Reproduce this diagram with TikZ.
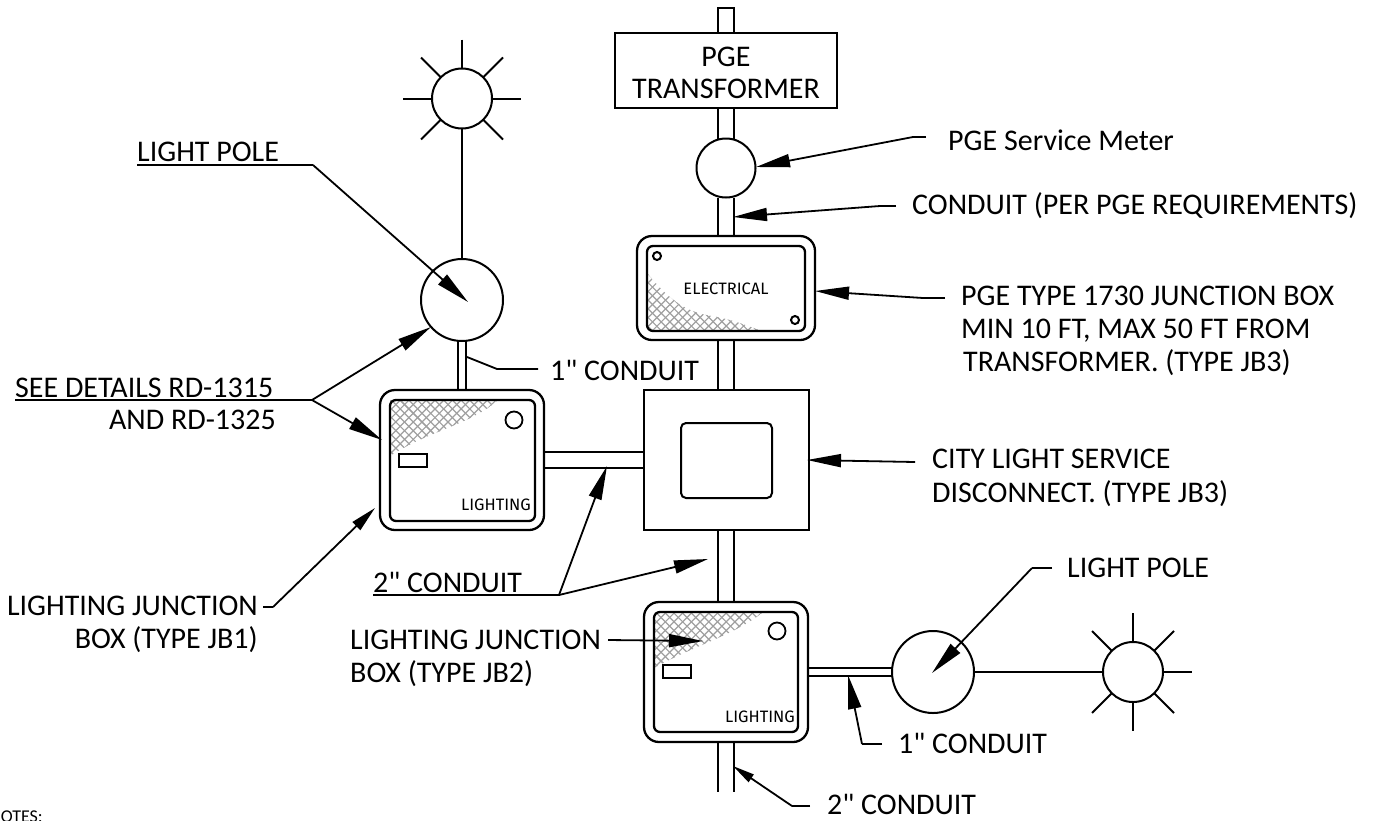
\documentclass[tikz,border=0pt]{standalone}
\usepackage{fontspec}
\setmainfont{Carlito}
\newfontfamily\comicf{Fira Sans}
\newfontfamily\plainq{Carlito}
\usetikzlibrary{arrows.meta,calc}
\newcommand{\qq}{{\plainq\symbol{34}}}
\tikzset{
 lbl/.style={inner sep=0pt,font=\fontsize{30}{33}\selectfont,align=left,text=black},
 lblr/.style={inner sep=0pt,font=\fontsize{30}{33}\selectfont,align=right,text=black},
 tiny/.style={inner sep=0pt,font=\comicf\fontsize{16.5}{18}\selectfont},
 main/.style={line width=2pt,black},
 thick2/.style={line width=2.3pt,black},
 leader/.style={line width=1.8pt,black},
 arr/.style={leader,-{Triangle[length=34pt,width=13pt]}},
 ring/.style={circle,draw,line width=2pt,inner sep=0pt},
 hatchline/.style={line width=1.2pt,gray!75},
}
\newcommand{\hatchfill}[1]{%
 \begin{scope}
 \clip #1;
 \foreach \k in {0,8.7,...,1000}{
   \draw[hatchline] (\k,0) -- ++(800,800);
   \draw[hatchline] (0,\k) -- ++(800,800);
   \draw[hatchline] (\k,0) -- ++(-800,800);
   \draw[hatchline] (\k+1000,0) -- ++(-800,800);
 }
 \end{scope}}
\newcommand{\sunrays}[1]{%
 \draw[main] ($(#1)+(0,-59)$) -- ($(#1)+(0,-30)$);
 \draw[main] ($(#1)+(0,30)$) -- ($(#1)+(0,59)$);
 \draw[main] ($(#1)+(-59,0)$) -- ($(#1)+(-30,0)$);
 \draw[main] ($(#1)+(30,0)$) -- ($(#1)+(59,0)$);
 \draw[main] ($(#1)+(-41,-41)$) -- ($(#1)+(-21,-21)$);
 \draw[main] ($(#1)+(41,-41)$) -- ($(#1)+(21,-21)$);
 \draw[main] ($(#1)+(-41,41)$) -- ($(#1)+(-21,21)$);
 \draw[main] ($(#1)+(41,41)$) -- ($(#1)+(21,21)$);}
\begin{document}
\begin{tikzpicture}[x=1pt,y=-1pt]
\useasboundingbox (0,0) rectangle (1375,820);
% main conduit
\draw[main] (718,33) -- (718,8) -- (734,8) -- (734,33);
\draw[main] (718,108) -- (718,139) (734,108) -- (734,139);
\draw[main] (718,198) -- (718,237) (734,198) -- (734,237);
\draw[main] (718,340) -- (718,390) (734,340) -- (734,390);
\draw[main] (718,530) -- (718,602) (734,530) -- (734,602);
\draw[main] (718,742) -- (718,792) (734,742) -- (734,792);
% transformer
\node[draw,line width=2pt,minimum width=222pt,minimum height=75pt,inner sep=0pt] (tr) at (726,70.5) {};
\node[lbl,anchor=base] (tr1) at (726,66) {PGE};
\node[lbl,anchor=base] (tr2) at (726,98) {TRANSFORMER};
% meter
\node[ring,minimum size=59pt,fill=white] (meter) at (726,168) {};
% electrical box
\hatchfill{(647,273) .. controls (668,298) and (684,312) .. (712,316) .. controls (735,320) and (750,327) .. (762,331) -- (647,331) -- cycle}
\draw[thick2,rounded corners=15pt] (637,236) rectangle (815,340);
\draw[thick2,rounded corners=6pt] (647,246) rectangle (805,331);
\node[circle,draw,line width=2pt,minimum size=8pt,inner sep=0pt] (e1) at (657,256) {};
\node[circle,draw,line width=2pt,minimum size=8pt,inner sep=0pt] (e2) at (795,320) {};
\node[tiny] (eltxt) at (726,289) {ELECTRICAL};
% disconnect
\draw[main] (644,390) rectangle (809,530);
\draw[main,rounded corners=5pt] (681,423) rectangle (772,498);
% JB1
\hatchfill{(390,400) -- (498,400) .. controls (470,425) and (430,430) .. (390,456) -- cycle}
\draw[thick2,rounded corners=15pt] (380,390) rectangle (544,530);
\draw[thick2,rounded corners=6pt] (390,400) rectangle (535,521);
\node[circle,draw,line width=1.8pt,minimum size=17pt,inner sep=0pt] (j1c) at (514,420) {};
\draw[main] (399,454) rectangle (427,467);
\node[tiny] (j1t) at (496,505) {LIGHTING};
% JB2
\hatchfill{(654,612) -- (763,612) .. controls (735,635) and (695,645) .. (654,668) -- cycle}
\draw[thick2,rounded corners=15pt] (644,602) rectangle (808,742);
\draw[thick2,rounded corners=6pt] (654,612) rectangle (798,732);
\node[circle,draw,line width=1.8pt,minimum size=17pt,inner sep=0pt] (j2c) at (777,631) {};
\draw[main] (663,665) rectangle (691,678);
\node[tiny] (j2t) at (760,717) {LIGHTING};
% horizontal conduits
\draw[main] (544,452) -- (644,452) (544,468) -- (644,468);
\draw[main] (808,668) -- (892,668) (808,675.5) -- (892,675.5);
\draw[main] (458,340) -- (458,390) (466,340) -- (466,390);
% left pole and sun
\node[ring,minimum size=82pt] (pole1) at (462,300) {};
\node[ring,minimum size=60pt] (sun1) at (462,98.5) {};
\sunrays{sun1.center}
\draw[main] (sun1.south) -- (pole1.north);
% right pole and sun
\node[ring,minimum size=82pt] (pole2) at (933,672) {};
\node[ring,minimum size=60pt] (sun2) at (1133,672) {};
\sunrays{sun2.center}
\draw[main] (pole2.east) -- (sun2.west);
% labels
\node[lbl,anchor=base west] (t1) at (137,161) {LIGHT POLE};
\coordinate (u1a) at (137,165); \coordinate (u1b) at (313,165);
\draw[leader] (u1a) -- (u1b);
\coordinate (a1) at (468,302);
\draw[arr] (u1b) -- (a1);
\node[lbl,anchor=base west] (t2) at (15,397) {SEE DETAILS RD-1315};
\node[lblr,anchor=base east] (t2b) at (276,429) {AND RD-1325};
\coordinate (u2a) at (15,400); \coordinate (u2b) at (312,400);
\draw[leader] (u2a) -- (u2b);
\coordinate (a2) at (431,327); \coordinate (a3) at (382,440);
\draw[arr] (u2b) -- (a2);
\draw[arr] (u2b) -- (a3);
\node[lbl,anchor=base west] (t3) at (550,380) {1\qq\ CONDUIT};
\coordinate (l3a) at (538,369); \coordinate (l3b) at (497,369); \coordinate (l3c) at (467,357);
\draw[leader] (l3a) -- (l3b) -- (l3c);
\node[lbl,anchor=base west] (t4) at (948,150) {PGE Service Meter};
\coordinate (l4a) at (926,137); \coordinate (l4b) at (913,137); \coordinate (a4) at (756,167);
\draw[leader] (l4a) -- (l4b); \draw[arr] (l4b) -- (a4);
\node[lbl,anchor=base west] (t5) at (912,214) {CONDUIT (PER PGE REQUIREMENTS)};
\coordinate (l5a) at (896,206); \coordinate (l5b) at (880,206); \coordinate (a5) at (733,217);
\draw[leader] (l5a) -- (l5b); \draw[arr] (l5b) -- (a5);
\node[lbl,anchor=base west] (t6) at (961,305) {PGE TYPE 1730 JUNCTION BOX};
\node[lbl,anchor=base west] (t6b) at (961,338) {MIN 10 FT, MAX 50 FT FROM};
\node[lbl,anchor=base west] (t6c) at (963,371) {TRANSFORMER. (TYPE JB3)};
\coordinate (l6a) at (945,298); \coordinate (l6b) at (923,298); \coordinate (a6) at (815,291);
\draw[leader] (l6a) -- (l6b); \draw[arr] (l6b) -- (a6);
\node[lbl,anchor=base west] (t7) at (932,468) {CITY LIGHT SERVICE};
\node[lbl,anchor=base west] (t7b) at (932,502) {DISCONNECT. (TYPE JB3)};
\coordinate (l7a) at (915,462); \coordinate (a7) at (807,460);
\draw[arr] (l7a) -- (a7);
\node[lbl,anchor=base west] (t8) at (373,592) {2\qq\ CONDUIT};
\coordinate (u8a) at (373,595); \coordinate (u8b) at (559,595);
\draw[leader] (u8a) -- (u8b);
\coordinate (a8) at (607,466); \coordinate (a9) at (708,559);
\draw[arr] (u8b) -- (a8);
\draw[arr] (u8b) -- (a9);
\node[lblr,anchor=base east] (t9) at (258,615) {LIGHTING JUNCTION};
\node[lblr,anchor=base east] (t9b) at (258,648) {BOX (TYPE JB1)};
\coordinate (l9a) at (263,607); \coordinate (l9b) at (273,607); \coordinate (a10) at (375,508);
\draw[leader] (l9a) -- (l9b); \draw[leader,-{Triangle[length=26pt,width=11pt]}] (l9b) -- (a10);
\node[lbl,anchor=base west] (t10) at (350,649) {LIGHTING JUNCTION};
\node[lbl,anchor=base west] (t10b) at (350,682) {BOX (TYPE JB2)};
\coordinate (l10a) at (608,640); \coordinate (a11) at (703,641);
\draw[arr] (l10a) -- (a11);
\node[lbl,anchor=base west] (t11) at (1067,577) {LIGHT POLE};
\coordinate (l11a) at (1052,568); \coordinate (l11b) at (1032,568); \coordinate (a12) at (932,673);
\draw[leader] (l11a) -- (l11b); \draw[arr] (l11b) -- (a12);
\node[lbl,anchor=base west] (t12) at (898,753) {1\qq\ CONDUIT};
\coordinate (l12a) at (882,744); \coordinate (l12b) at (862,744); \coordinate (a13) at (848,675);
\draw[leader] (l12a) -- (l12b); \draw[arr] (l12b) -- (a13);
\node[lbl,anchor=base west] (t13) at (827,814.5) {2\qq\ CONDUIT};
\coordinate (l13a) at (810,806); \coordinate (l13b) at (792,806); \coordinate (a14) at (733,766);
\draw[leader] (l13a) -- (l13b); \draw[leader,-{Triangle[length=22pt,width=9pt]}] (l13b) -- (a14);
\node[inner sep=0pt,anchor=base west,font=\fontsize{18}{20}\selectfont] (notes) at (-11,822) {NOTES:};
\end{tikzpicture}
\end{document}
